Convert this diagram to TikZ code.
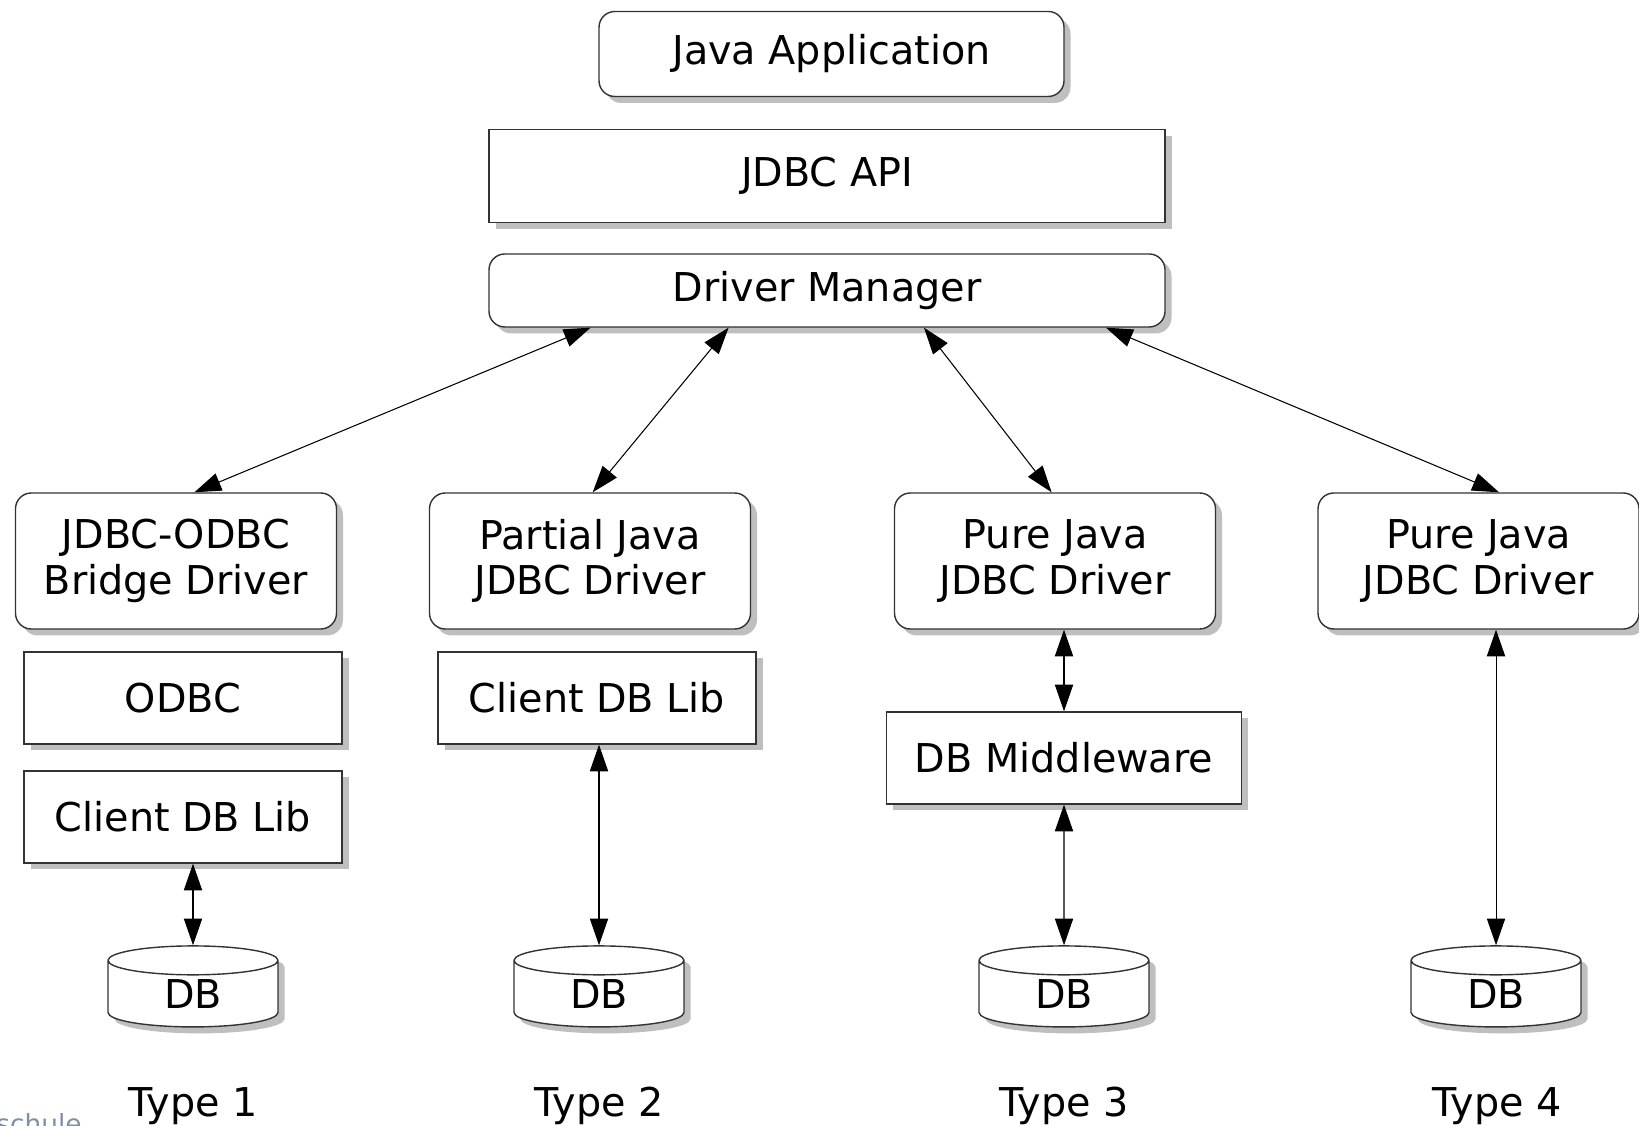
\documentclass[tikz,border=0pt]{standalone}
\usepackage{fontspec}
\setmainfont{DejaVu Sans}
\usetikzlibrary{arrows.meta,shapes.geometric,shadows}
\definecolor{logogray}{HTML}{7F8FA6}
\tikzset{>={Triangle[length=7.6pt,width=5.2pt]}}
\tikzset{
  dropsh/.style={drop shadow={shadow xshift=0.65mm, shadow yshift=-0.65mm, fill=black!25, opacity=1}},
  layer/.style={draw=black!80, line width=0.4pt, fill=white, dropsh, inner sep=0pt, align=center},
  rlayer/.style={layer, rounded corners=4.5pt},
  driver/.style={rlayer, minimum width=32.1mm, minimum height=13.6mm},
  lib/.style={layer, minimum width=31.8mm, minimum height=9.2mm},
  dbcyl/.style={layer, cylinder, shape border rotate=90, aspect=0.5, minimum width=17mm, minimum height=8.1mm},
  link/.style={<->, line width=0.3pt},
}

\begin{document}
\begin{tikzpicture}[x=0.1mm, y=0.1mm, font=\fontsize{11.3}{12.9}\selectfont]
      \useasboundingbox (0,0) rectangle (1639,1125);
      \node[rlayer, minimum width=46.5mm, minimum height=8.5mm] (app) at (831.5,1071) {Java Application};
      \node[layer, minimum width=67.6mm, minimum height=9.3mm] (api) at (827,949) {JDBC API};
      \node[rlayer, minimum width=67.6mm, minimum height=7.3mm] (dm) at (827,834.5) {Driver Manager};
      \node[driver] (drv1) at (176,564) {JDBC-ODBC\\Bridge Driver};
      \node[driver] (drv2) at (590,564) {Partial Java\\JDBC Driver};
      \node[driver] (drv3) at (1055,564) {Pure Java\\JDBC Driver};
      \node[driver] (drv4) at (1478.5,564) {Pure Java\\JDBC Driver};
      \node[lib] (odbc) at (183,427) {ODBC};
      \node[lib] (lib1) at (183,308) {Client DB Lib};
      \node[lib] (lib2) at (597,427) {Client DB Lib};
      \node[lib, minimum width=35.5mm] (mw) at (1064,367) {DB Middleware};
      \node[dbcyl] (db1) at (193,131) {DB};
      \node[dbcyl] (db2) at (599,131) {DB};
      \node[dbcyl] (db3) at (1064,131) {DB};
      \node[dbcyl] (db4) at (1496,131) {DB};
      \node (t1) at (193,19) {Type 1};
      \node (t2) at (599,19) {Type 2};
      \node (t3) at (1064,19) {Type 3};
      \node (t4) at (1497,19) {Type 4};
      \node[anchor=base west, text=logogray, font=\fontsize{7.5}{9}\selectfont] (logo) at (-16,-8) {schule};
      \draw[link] ([xshift=-23.64mm]dm.south) -- ([xshift=1.84mm]drv1.north);
      \draw[link] ([xshift=-9.84mm]dm.south) -- ([xshift=0.27mm]drv2.north);
      \draw[link] ([xshift=9.7mm]dm.south) -- ([xshift=-0.34mm]drv3.north);
      \draw[link] ([xshift=27.9mm]dm.south) -- ([xshift=2.05mm]drv4.north);
      \draw[link] (lib1.south -| db1.north) -- (db1.north);
      \draw[link] (lib2.south -| db2.north) -- (db2.north);
      \draw[link] (drv3.south -| mw.north) -- (mw.north);
      \draw[link] (mw.south) -- (db3.north);
      \draw[link] (drv4.south -| db4.north) -- (db4.north);
\end{tikzpicture}
\end{document}
